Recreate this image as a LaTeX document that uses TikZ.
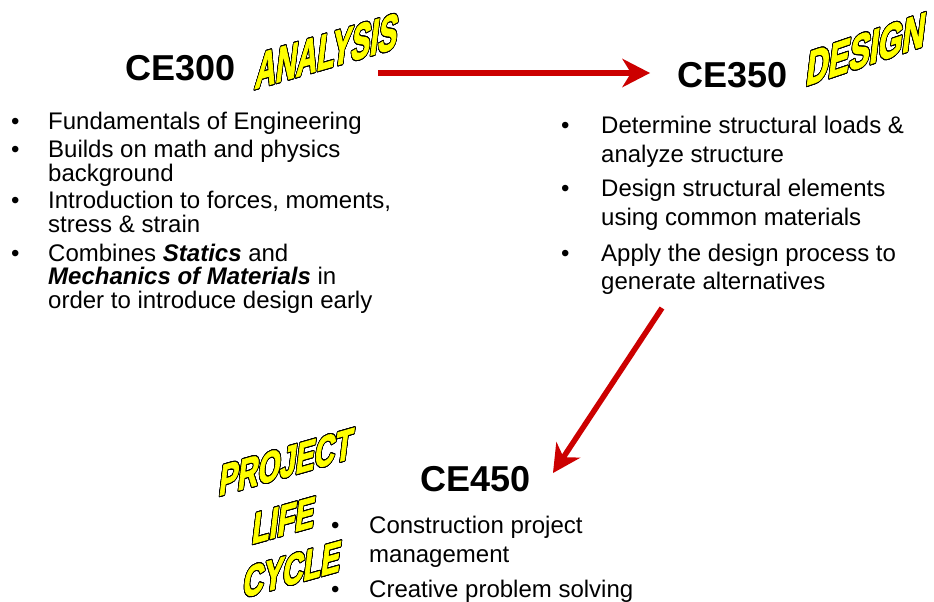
\documentclass[tikz,border=0pt]{standalone}
\usepackage{fontspec}
\setmainfont{Liberation Sans}
\newfontfamily\artfont[FakeBold=2.5]{Liberation Sans Bold}
\usepackage{contour}
\contourlength{1.1pt}
\contournumber{24}
\usetikzlibrary{arrows.meta}

\definecolor{arrowred}{RGB}{204,0,0}
\definecolor{artyellow}{RGB}{255,255,0}

% stacked lines whose baseline is the first line's baseline
\newcommand{\stack}[1]{\vtop{\halign{##\hfil\cr #1\crcr}}}

\tikzset{
  course/.style={anchor=base west, inner sep=0pt,
    font=\fontsize{36}{36}\selectfont\bfseries},
  dot/.style={anchor=base west, inner sep=0pt,
    font=\fontsize{24}{24}\selectfont},
  itemtext/.style={anchor=base west, inner sep=0pt,
    font=\fontsize{24}{#1}\selectfont},
  wordart/.style={anchor=base west, inner sep=0pt, transform shape,
    text=artyellow, font=\fontsize{#1}{#1}\selectfont\artfont},
  bigarrow/.style={draw=arrowred, line width=5.5pt,
    -{Stealth[length=28pt, width=29pt, inset=9pt, line width=0pt]}},
}

\begin{document}
\begin{tikzpicture}[x=1pt, y=-1pt]
  \useasboundingbox (0,0) rectangle (934,602);
  \fill[white] (0,0) rectangle (934,602);

  % course titles
  \node[course] (ce300) at (125,81) {CE300};
  \node[course] (ce350) at (677,88) {CE350};
  \node[course] (ce450) at (420,491) {CE450};

  % slanted yellow captions
  \begin{scope}[shift={(254,89)}, cm={0.56,0.162,0.12,1,(0,0)}]
    \node[wordart=51] (analysis) at (0,0) {\contour{black}{ANALYSIS}};
  \end{scope}
  \begin{scope}[shift={(805,86)}, cm={0.63,0.214,0.12,1,(0,0)}]
    \node[wordart=49] (design) at (0,0) {\contour{black}{DESIGN}};
  \end{scope}
  \begin{scope}[shift={(218,496)}, cm={0.64,0.182,0.12,1,(0,0)}]
    \node[wordart=44] (project) at (0,0) {\contour{black}{PROJECT}};
  \end{scope}
  \begin{scope}[shift={(251,544)}, cm={0.65,0.182,0.12,1,(0,0)}]
    \node[wordart=44] (life) at (0,0) {\contour{black}{LIFE}};
  \end{scope}
  \begin{scope}[shift={(242,598)}, cm={0.65,0.182,0.12,1,(0,0)}]
    \node[wordart=44] (cycle) at (0,0) {\contour{black}{CYCLE}};
  \end{scope}

  % CE300 topics
  \node[dot] (b1) at (11,129) {•};
  \node[itemtext=24] (t1) at (48,129) {Fundamentals of Engineering};
  \node[dot] (b2) at (11,157) {•};
  \node[itemtext=24] (t2) at (48,157) {\stack{Builds on math and physics\cr background}};
  \node[dot] (b3) at (11,208) {•};
  \node[itemtext=24] (t3) at (48,208) {\stack{Introduction to forces, moments,\cr stress \& strain}};
  \node[dot] (b4) at (11,261) {•};
  \node[itemtext=23.7] (t4) at (48,261) {\stack{Combines \textbf{\textit{Statics}} and\cr
      \textbf{\textit{Mechanics of Materials}} in\cr order to introduce design early}};

  % CE350 topics
  \node[dot] (b5) at (561,133) {•};
  \node[itemtext=29] (t5) at (601,133) {\stack{Determine structural loads \&\cr analyze structure}};
  \node[dot] (b6) at (561,196) {•};
  \node[itemtext=29] (t6) at (601,196) {\stack{Design structural elements\cr using common materials}};
  \node[dot] (b7) at (561,261) {•};
  \node[itemtext=28] (t7) at (601,261) {\stack{Apply the design process to\cr generate alternatives}};

  % CE450 topics
  \node[dot] (b8) at (331,533) {•};
  \node[itemtext=29] (t8) at (369,533) {\stack{Construction project\cr management}};
  \node[dot] (b9) at (331,597) {•};
  \node[itemtext=29] (t9) at (369,597) {Creative problem solving};

  % progression arrows
  \coordinate (p1) at (378,73);
  \coordinate (p2) at (650,73);
  \coordinate (p3) at (662,308);
  \coordinate (p4) at (553,473);
  \draw[bigarrow] (p1) -- (p2);
  \draw[bigarrow] (p3) -- (p4);
\end{tikzpicture}
\end{document}
